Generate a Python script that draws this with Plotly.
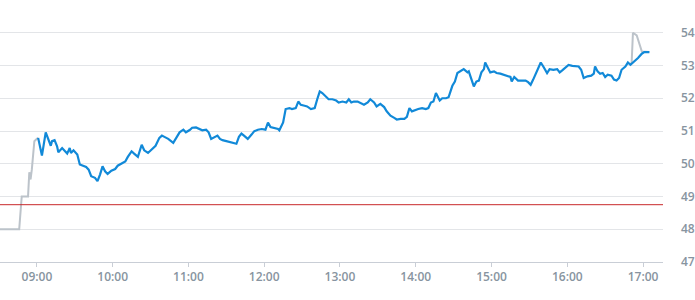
import plotly.graph_objects as go

DAY = "2024-01-02 "

pre_times = ["08:30", "08:46", "08:48", "08:53", "08:54", "08:55", "08:56", "08:58", "09:00", "09:01"]
pre_prices = [48.00, 48.00, 49.00, 49.00, 49.74, 49.52, 49.82, 50.69, 50.76, 50.79]

main_times = [
    "09:01", "09:04", "09:07", "09:09", "09:11", "09:12", "09:14", "09:16", "09:17", "09:20",
    "09:22", "09:24", "09:26", "09:27", "09:29", "09:32", "09:34", "09:37", "09:39", "09:41",
    "09:43", "09:46", "09:48", "09:50", "09:52", "09:54", "09:56", "09:59", "10:02", "10:04",
    "10:07", "10:10", "10:12", "10:15", "10:17", "10:20", "10:23", "10:25", "10:28", "10:31",
    "10:34", "10:37", "10:39", "10:41", "10:44", "10:48", "10:50", "10:53", "10:56", "10:58",
    "11:01", "11:03", "11:06", "11:09", "11:11", "11:14", "11:16", "11:18", "11:21", "11:23",
    "11:25", "11:27", "11:30", "11:32", "11:35", "11:38", "11:40", "11:42", "11:44", "11:47",
    "11:50", "11:52", "11:55", "11:58", "12:01", "12:03", "12:05", "12:08", "12:11", "12:12",
    "12:15", "12:17", "12:20", "12:22", "12:25", "12:27", "12:29", "12:32", "12:34", "12:37",
    "12:40", "12:42", "12:44", "12:46", "12:49", "12:51", "12:54", "12:57", "12:59", "13:02",
    "13:05", "13:07", "13:09", "13:11", "13:14", "13:16", "13:19", "13:22", "13:24", "13:27",
    "13:29", "13:32", "13:35", "13:37", "13:40", "13:43", "13:45", "13:48", "13:51", "13:53",
    "13:55", "13:57", "14:00", "14:02", "14:05", "14:08", "14:10", "14:12", "14:14", "14:16",
    "14:19", "14:21", "14:24", "14:26", "14:29", "14:31", "14:33", "14:36", "14:38", "14:41",
    "14:42", "14:44", "14:46", "14:48", "14:50", "14:52", "14:54", "14:55", "14:57", "14:59",
    "15:02", "15:04", "15:07", "15:10", "15:12", "15:15", "15:16", "15:18", "15:21", "15:24",
    "15:27", "15:29", "15:31", "15:33", "15:36", "15:39", "15:41", "15:44", "15:46", "15:49",
    "15:52", "15:54", "15:56", "15:58", "16:01", "16:04", "16:06", "16:09", "16:11", "16:13",
    "16:16", "16:19", "16:21", "16:22", "16:24", "16:26", "16:28", "16:30", "16:32", "16:35",
    "16:37", "16:39", "16:41", "16:43", "16:46", "16:48", "16:50", "16:53", "16:56", "16:59",
    "17:01", "17:05",
]
main_prices = [
    50.79, 50.25, 50.96, 50.76, 50.55, 50.69, 50.72, 50.53, 50.35, 50.48,
    50.38, 50.31, 50.48, 50.33, 50.41, 50.28, 49.98, 49.94, 49.90, 49.82,
    49.62, 49.57, 49.47, 49.67, 49.92, 49.77, 49.69, 49.79, 49.84, 49.94,
    50.00, 50.07, 50.21, 50.38, 50.31, 50.21, 50.58, 50.41, 50.33, 50.45,
    50.55, 50.79, 50.86, 50.82, 50.76, 50.64, 50.76, 50.96, 51.04, 50.96,
    51.03, 51.10, 51.11, 51.06, 51.02, 51.04, 50.96, 50.76, 50.82, 50.86,
    50.76, 50.72, 50.69, 50.67, 50.66, 50.61, 50.82, 50.92, 50.86, 50.76,
    50.89, 50.99, 51.04, 51.06, 51.04, 51.26, 51.12, 51.09, 51.06, 51.02,
    51.26, 51.67, 51.70, 51.67, 51.70, 51.90, 51.80, 51.77, 51.75, 51.67,
    51.70, 51.97, 52.21, 52.16, 52.06, 51.97, 51.97, 51.93, 51.87, 51.90,
    51.87, 51.97, 51.87, 51.90, 51.90, 51.85, 51.80, 51.87, 51.97, 51.87,
    51.75, 51.83, 51.73, 51.60, 51.47, 51.40, 51.35, 51.37, 51.37, 51.43,
    51.70, 51.60, 51.65, 51.67, 51.70, 51.67, 51.70, 51.87, 51.90, 52.16,
    51.93, 52.00, 52.00, 52.03, 52.38, 52.51, 52.77, 52.85, 52.89, 52.79,
    52.82, 52.59, 52.36, 52.51, 52.54, 52.79, 52.89, 53.09, 52.95, 52.79,
    52.82, 52.77, 52.75, 52.72, 52.69, 52.65, 52.51, 52.65, 52.54, 52.54,
    52.54, 52.49, 52.41, 52.57, 52.82, 53.09, 52.97, 52.77, 52.89, 52.87,
    52.89, 52.79, 52.85, 52.92, 53.02, 52.99, 52.99, 52.97, 52.87, 52.62,
    52.67, 52.69, 52.75, 52.97, 52.82, 52.75, 52.77, 52.65, 52.72, 52.69,
    52.57, 52.54, 52.62, 52.87, 52.97, 53.09, 53.02, 53.12, 53.23, 53.36,
    53.41, 53.41,
]

post_times = ["16:50", "16:51", "16:52", "16:54", "16:55", "16:59", "17:05"]
post_prices = [53.02, 53.10, 54.00, 53.96, 53.92, 53.43, 53.41]

prev_close = 48.75
y_ticks = [47, 48, 49, 50, 51, 52, 53, 54]
x_tick_labels = ["09:00", "10:00", "11:00", "12:00", "13:00", "14:00", "15:00", "16:00", "17:00"]

BLUE = "#1189d8"
GREY = "#bcc3ca"
LABEL = "#8794a0"

fig = go.Figure()
fig.add_trace(go.Scatter(x=[DAY + t for t in pre_times], y=pre_prices, mode="lines",
                         line=dict(color=GREY, width=2), hoverinfo="skip"))
fig.add_trace(go.Scatter(x=[DAY + t for t in post_times], y=post_prices, mode="lines",
                         line=dict(color=GREY, width=2), hoverinfo="skip"))
fig.add_trace(go.Scatter(x=[DAY + t for t in main_times], y=main_prices, mode="lines",
                         line=dict(color=BLUE, width=2.2)))
fig.add_hline(y=prev_close, line=dict(color="#c8282a", width=1))

fig.update_layout(
    width=695, height=300,
    margin=dict(l=0, r=30, t=0, b=38),
    paper_bgcolor="white", plot_bgcolor="white",
    showlegend=False,
    font=dict(family="Open Sans", color=LABEL),
)
fig.update_xaxes(
    type="date",
    range=[DAY + "08:30:48", DAY + "17:15:48"],
    tickvals=[DAY + t for t in x_tick_labels],
    ticktext=x_tick_labels,
    showgrid=False,
    showline=True, linecolor="#c9ced6", linewidth=1,
    ticks="outside", ticklen=4, tickcolor="#c9ced6",
    tickfont=dict(size=12, color=LABEL, family="Open Sans", weight=600),
    zeroline=False,
)
fig.update_yaxes(
    side="right",
    range=[47, 55],
    tickvals=y_ticks,
    showgrid=True, gridcolor="#e3e5e8", gridwidth=1,
    showline=False, zeroline=False,
    ticks="", ticklabelstandoff=17,
    tickfont=dict(size=12, color=LABEL, family="Open Sans", weight=600),
)

fig.write_html("out.html")
